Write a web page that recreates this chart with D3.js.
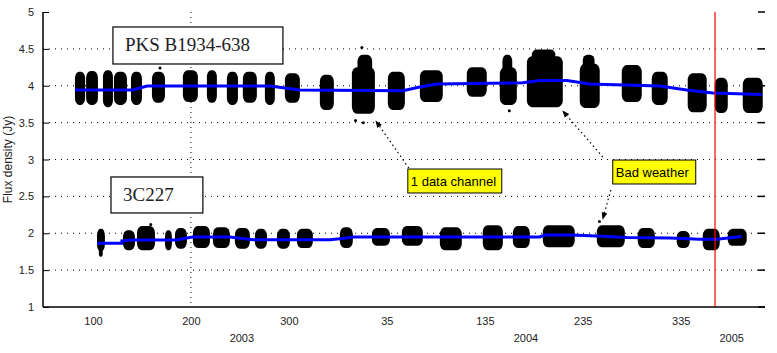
<!DOCTYPE html>
<html>
<head>
<meta charset="utf-8">
<script src="https://cdn.jsdelivr.net/npm/d3@7"></script>
<style>
  body { margin: 0; background: #fff; }
  svg { display: block; font-family: "Liberation Sans", Arial, sans-serif; }
</style>
</head>
<body>
<script>
"use strict";
// axis ticks (x = day counted from 1 Jan 2003)
const yTicks = [1, 1.5, 2, 2.5, 3, 3.5, 4, 4.5, 5];
const xTicks = [100, 200, 300, 400, 500, 600, 700];
const xTickLabels = ["100", "200", "300", "35", "135", "235", "335"];
const yearNames = ["2003", "2004", "2005"];
const yearDays = [252, 542, 752];
const gridDays = [200];
const markerDay = 735;

// observing epochs: [startDay, endDay, fluxLow, fluxHigh]
const pksEpochs = [
  [81.6, 92.0, 3.74, 4.19], [93.0, 105.1, 3.74, 4.20], [110.2, 120.4, 3.71, 4.21],
  [121.4, 134.7, 3.74, 4.19], [138.8, 150.0, 3.74, 4.19], [160.2, 173.5, 3.77, 4.19],
  [191.8, 207.1, 3.78, 4.21], [216.3, 226.5, 3.77, 4.21], [236.7, 248.0, 3.74, 4.19],
  [253.0, 267.3, 3.77, 4.19], [275.5, 285.7, 3.74, 4.19], [295.9, 311.2, 3.77, 4.17],
  [331.6, 345.9, 3.67, 4.15], [364.3, 387.8, 3.62, 4.25], [370.0, 385.0, 4.10, 4.42],
  [401.0, 418.4, 3.67, 4.19], [433.7, 457.1, 3.78, 4.21], [481.6, 502.0, 3.85, 4.25],
  [515.3, 532.7, 3.74, 4.25], [518.0, 528.0, 4.15, 4.42], [542.9, 579.6, 3.71, 4.40],
  [548.0, 572.0, 4.30, 4.49], [596.9, 617.3, 3.70, 4.30], [600.0, 612.0, 4.20, 4.42],
  [639.8, 660.2, 3.78, 4.28], [670.4, 686.7, 3.74, 4.19], [707.1, 726.5, 3.64, 4.17],
  [734.7, 748.0, 3.63, 4.11], [763.3, 783.7, 3.63, 4.11]
];
const pksOutliers = [[168.4, 4.24], [374.5, 4.52], [368, 3.53], [376, 3.50], [525, 3.66]];

const c3Epochs = [
  [104.1, 112.2, 1.76, 2.06], [106.0, 110.0, 1.68, 1.82], [130.6, 142.9, 1.77, 2.04],
  [144.9, 163.3, 1.77, 2.10], [173.5, 180.6, 1.77, 2.04], [183.7, 195.9, 1.79, 2.07],
  [202.0, 219.4, 1.80, 2.10], [222.4, 239.8, 1.80, 2.08], [244.9, 260.2, 1.79, 2.07],
  [265.3, 277.6, 1.79, 2.06], [287.8, 301.0, 1.79, 2.06], [308.2, 324.5, 1.80, 2.06],
  [352.0, 365.3, 1.80, 2.08], [384.7, 403.1, 1.83, 2.07], [415.3, 436.7, 1.83, 2.10],
  [454.1, 476.5, 1.77, 2.08], [497.9, 518.4, 1.77, 2.11], [528.6, 545.9, 1.80, 2.10],
  [559.2, 591.8, 1.81, 2.11], [614.3, 642.9, 1.81, 2.11], [656.1, 673.5, 1.80, 2.07],
  [695.9, 709.2, 1.80, 2.03], [722.4, 739.8, 1.77, 2.06], [748.0, 767.3, 1.83, 2.06]
];
const c3Outliers = [[159, 2.12], [617, 2.16]];

// smoothed model flux [day, flux]
const pksModel = [
  [81.6, 3.942], [140.8, 3.942], [155.1, 3.997], [280.6, 3.997], [311.2, 3.942],
  [416.3, 3.933], [433.7, 3.983], [451.0, 4.024], [538.8, 4.041], [556.1, 4.071],
  [583.7, 4.071], [607.1, 4.024], [678.6, 3.997], [706.1, 3.942], [732.7, 3.902],
  [782.7, 3.881]
];
const c3Model = [
  [104.1, 1.864], [129.6, 1.864], [129.6, 1.895], [140.8, 1.908], [185.7, 1.908],
  [193.9, 1.932], [202.0, 1.949], [239.8, 1.949], [250.0, 1.932], [263.3, 1.913],
  [341.8, 1.913], [357.1, 1.932], [365.3, 1.949], [556.1, 1.949], [561.2, 1.976],
  [586.7, 1.976], [614.3, 1.963], [644.9, 1.942], [688.8, 1.936], [719.4, 1.918],
  [736.7, 1.918], [762.2, 1.956]
];

const W = 777, H = 353;
const svg = d3.select("body").append("svg").attr("width", W).attr("height", H);

const x = d3.scaleLinear().domain([49, 786]).range([43, 765]);
const y = d3.scaleLinear().domain([1, 5]).range([307, 12]);

// grid
svg.append("g").selectAll("line").data(yTicks.slice(1, -1)).join("line")
  .attr("x1", x(49)).attr("x2", x(786))
  .attr("y1", d => y(d)).attr("y2", d => y(d))
  .attr("stroke", "#000").attr("stroke-width", 1).attr("stroke-dasharray", "1,5");
svg.append("g").selectAll("line").data(gridDays).join("line")
  .attr("x1", d => x(d)).attr("x2", d => x(d))
  .attr("y1", y(5)).attr("y2", y(1))
  .attr("stroke", "#000").attr("stroke-width", 1).attr("stroke-dasharray", "1,4");

// data blobs (rounded so they read like dense point clouds)
function drawEpochs(list, outliers) {
  const g = svg.append("g");
  g.selectAll("rect").data(list).join("rect")
    .attr("x", d => x(d[0])).attr("width", d => x(d[1]) - x(d[0]))
    .attr("y", d => y(d[3])).attr("height", d => y(d[2]) - y(d[3]))
    .attr("rx", d => Math.min((x(d[1]) - x(d[0])) / 2.5, 5))
    .attr("ry", d => Math.min((y(d[2]) - y(d[3])) / 3, 7))
    .attr("fill", "#000");
  g.selectAll("circle").data(outliers).join("circle")
    .attr("cx", d => x(d[0])).attr("cy", d => y(d[1])).attr("r", 1.5).attr("fill", "#000");
}
drawEpochs(pksEpochs, pksOutliers);
drawEpochs(c3Epochs, c3Outliers);

const line = d3.line().x(d => x(d[0])).y(d => y(d[1]));
[pksModel, c3Model].forEach(m => {
  svg.append("path").datum(m).attr("d", line)
    .attr("fill", "none").attr("stroke", "#0000ff").attr("stroke-width", 3);
});

// red marker (start of 2005)
svg.append("line")
  .attr("x1", x(markerDay)).attr("x2", x(markerDay)).attr("y1", y(5)).attr("y2", y(1))
  .attr("stroke", "#ff0000").attr("stroke-width", 1.2);

// axes
const yAxis = d3.axisLeft(y).tickValues(yTicks).tickSize(-6).tickPadding(9)
  .tickFormat(d3.format("~g"));
const gy = svg.append("g").attr("transform", `translate(${x(49)},0)`).call(yAxis);
const xAxis = d3.axisBottom(x).tickValues(xTicks).tickSize(0).tickPadding(10)
  .tickFormat((d, i) => xTickLabels[i]);
const gx = svg.append("g").attr("transform", `translate(0,${y(1)})`).call(xAxis);
[gx, gy].forEach(g => {
  g.select(".domain").attr("stroke", "#000").attr("stroke-width", 1.5);
  g.selectAll("text").attr("font-size", 11).attr("fill", "#222")
    .attr("font-family", "Liberation Sans, Arial, sans-serif");
});
gy.select(".domain").attr("d", `M0,${y(5)}V${y(1)}`);
gx.select(".domain").attr("d", `M${x(49)},0H${x(786)}`);
// right-hand ticks
svg.append("g").selectAll("line").data(yTicks).join("line")
  .attr("x1", x(786) - 7).attr("x2", x(786)).attr("y1", d => y(d)).attr("y2", d => y(d))
  .attr("stroke", "#000").attr("stroke-width", 1.5);

svg.append("g").selectAll("text").data(yearNames).join("text")
  .attr("x", (d, i) => x(yearDays[i])).attr("y", 342)
  .attr("text-anchor", "middle").attr("font-size", 11).attr("fill", "#222")
  .text(d => d);

svg.append("text")
  .attr("transform", `translate(12,${(y(1) + y(5)) / 2}) rotate(-90)`)
  .attr("text-anchor", "middle").attr("font-size", 12).attr("fill", "#222")
  .text("Flux density (Jy)");

// source name boxes
function nameBox(d0, d1, f0, f1, label) {
  svg.append("rect").attr("x", x(d0)).attr("y", y(f1))
    .attr("width", x(d1) - x(d0)).attr("height", y(f0) - y(f1))
    .attr("fill", "#fff").attr("stroke", "#000").attr("stroke-width", 1.2);
  svg.append("text").attr("x", x(d0) + 12).attr("y", (y(f0) + y(f1)) / 2 + 6)
    .attr("font-family", "Liberation Serif, Times New Roman, serif")
    .attr("font-size", 19).attr("fill", "#222").text(label);
}
nameBox(120.4, 293.9, 4.295, 4.797, "PKS B1934-638");
nameBox(118.4, 212.2, 2.275, 2.763, "3C227");

// dotted arrows
svg.append("defs").append("marker").attr("id", "ah")
  .attr("viewBox", "0 0 10 10").attr("refX", 9).attr("refY", 5)
  .attr("markerWidth", 6).attr("markerHeight", 6).attr("orient", "auto")
  .append("path").attr("d", "M0,1L10,5L0,9Z").attr("fill", "#000");
const arrows = [
  [422.4, 2.885, 388.8, 3.522],
  [620.4, 3.034, 579.6, 3.658],
  [628.6, 2.586, 620.4, 2.193]
];
svg.append("g").selectAll("line").data(arrows).join("line")
  .attr("x1", d => x(d[0])).attr("y1", d => y(d[1]))
  .attr("x2", d => x(d[2])).attr("y2", d => y(d[3]))
  .attr("stroke", "#000").attr("stroke-width", 1.2).attr("stroke-dasharray", "1.5,3")
  .attr("marker-end", "url(#ah)");

// yellow notes
function note(d0, d1, f0, f1, label, id) {
  const bx = x(d0), by = y(f1), bw = x(d1) - x(d0), bh = y(f0) - y(f1);
  svg.append("clipPath").attr("id", id).append("rect")
    .attr("x", bx).attr("y", by).attr("width", bw).attr("height", bh);
  svg.append("rect").attr("x", bx).attr("y", by).attr("width", bw).attr("height", bh)
    .attr("fill", "#ffff00").attr("stroke", "#000").attr("stroke-width", 1);
  svg.append("text").attr("x", bx + 3).attr("y", by + bh / 2 + 5)
    .attr("clip-path", `url(#${id})`)
    .attr("font-size", 13).attr("fill", "#000").text(label);
}
note(421.4, 517.3, 2.546, 2.871, "1 data channel", "c1");
note(630.6, 715.3, 2.668, 2.993, "Bad weather", "c2");
</script>
</body>
</html>
